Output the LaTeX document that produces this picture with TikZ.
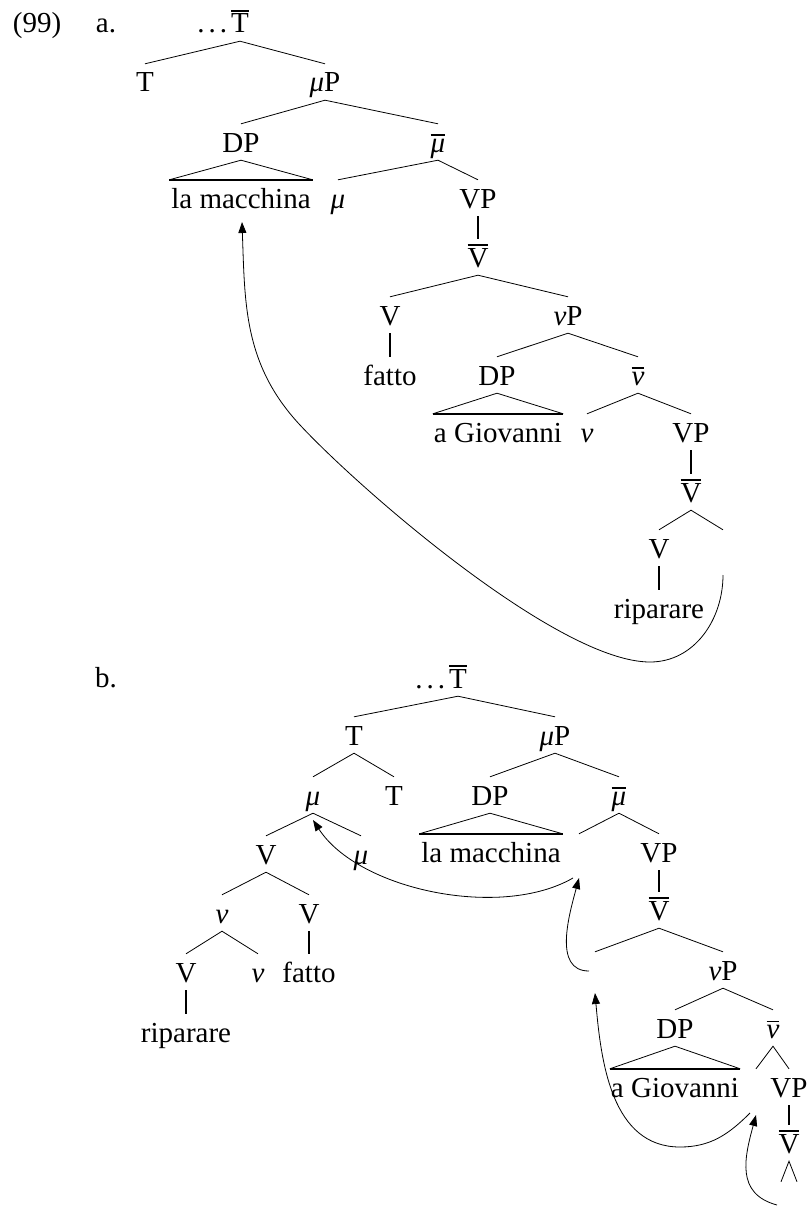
\documentclass[tikz,border=0pt]{standalone}
\usepackage{fontspec}
\setmainfont{Liberation Serif}
\usetikzlibrary{arrows.meta}
\newcommand\ovl[1]{\vbox{\hrule height 1.8pt\kern 2.4pt\hbox{#1}}}
\newcommand\gmu{\textit{μ}}
\newcommand\gnu{\textit{ν}}
\newcommand\dotsl{\llap{.\kern4pt.\kern4pt.\kern4pt}}
\begin{document}
\begin{tikzpicture}[x=1pt,y=1pt,
 tn/.style={anchor=base,inner sep=0pt,text height=28pt,text depth=8pt,font=\fontsize{29}{34}\selectfont},
 br/.style={line width=0.8pt},
 un/.style={line width=2.2pt},
 tribase/.style={line width=2.6pt},
 mv/.style={line width=0.8pt,-{Triangle[length=11pt,width=8pt]}}]
\useasboundingbox (0,0) rectangle (809,-1207);
% ---------- (a) ----------
\node[tn] (n99) at (37,-33) {(99)};
\node[tn] (la) at (106,-33) {a.};
\node[tn] (aTb) at (240,-33) {\dotsl\ovl{T}};
\node[tn] (aT) at (145,-92) {T};
\node[tn] (amuP) at (325,-92) {\gmu P};
\node[tn] (aDP) at (241,-152) {DP};
\node[tn] (amub) at (438,-152) {\ovl{\gmu}};
\node[tn,minimum width=143pt] (alm) at (241,-208) {la macchina};
\node[tn] (amu) at (338,-208) {\gmu};
\node[tn] (aVP) at (478,-208) {VP};
\node[tn] (aVb) at (478,-267) {\ovl{V}};
\node[tn] (aV1) at (390,-325) {V};
\node[tn] (afatto) at (390,-385) {fatto};
\node[tn] (avP) at (568,-325) {\gnu P};
\node[tn] (aDP2) at (497,-385) {DP};
\node[tn,minimum width=130pt] (agio) at (498,-442) {a Giovanni};
\node[tn] (avb) at (638,-385) {\ovl{\gnu}};
\node[tn] (anu) at (587,-442) {\gnu};
\node[tn] (aVP2) at (691,-442) {VP};
\node[tn] (aVb2) at (691,-502) {\ovl{V}};
\node[tn] (aV2) at (659,-558) {V};
\node[tn] (aE) at (723,-558) {};
\node[tn] (arip) at (659,-618) {riparare};
\draw[br] (aT.north) -- (aTb.south) -- (amuP.north);
\draw[br] (aDP.north) -- (amuP.south) -- (amub.north);
\draw[br] (alm.north west) -- (aDP.south) -- (alm.north east);
\draw[tribase] (alm.north west) -- (alm.north east);
\draw[br] (amu.north) -- (amub.south) -- (aVP.north);
\draw[un] (aVP.south) -- (aVb.north);
\draw[br] (aV1.north) -- (aVb.south) -- (avP.north);
\draw[un] (aV1.south) -- (afatto.north);
\draw[br] (aDP2.north) -- (avP.south) -- (avb.north);
\draw[br] (agio.north west) -- (aDP2.south) -- (agio.north east);
\draw[tribase] (agio.north west) -- (agio.north east);
\draw[br] (anu.north) -- (avb.south) -- (aVP2.north);
\draw[un] (aVP2.south) -- (aVb2.north);
\draw[br] (aV2.north) -- (aVb2.south) -- (aE.north);
\draw[un] (aV2.south) -- (arip.north);
\coordinate (aS) at (723,-575);
\coordinate (aB) at (650,-662);
\coordinate (aM) at (300,-425);
\coordinate (aTip) at (242,-222);
\draw[mv] (aS) to[out=-90,in=0] (aB) to[out=180,in=-47,looseness=0.55] (aM) to[out=133,in=-88] (aTip);
% ---------- (b) ----------
\node[tn] (lb) at (106,-687) {b.};
\node[tn] (bTb) at (458,-688) {\dotsl\ovl{T}};
\node[tn] (bT) at (354,-745) {T};
\node[tn] (bmuP) at (555,-745) {\gmu P};
\node[tn] (bmu) at (313,-805) {\gmu};
\node[tn] (bT2) at (394,-805) {T};
\node[tn] (bDP) at (490,-805) {DP};
\node[tn] (bmub) at (619,-805) {\ovl{\gmu}};
\node[tn] (bV) at (266,-864) {V};
\node[tn] (bmu2) at (361,-864) {\gmu};
\node[tn,minimum width=143pt] (blm) at (491,-862) {la macchina};
\node[tn] (bE0) at (579,-862) {};
\node[tn] (bVP) at (659,-862) {VP};
\node[tn] (bnu1) at (222,-923) {\gnu};
\node[tn] (bV2) at (309,-923) {V};
\node[tn] (bVb) at (659,-920) {\ovl{V}};
\node[tn] (bV3) at (186,-982) {V};
\node[tn] (bnu2) at (258,-982) {\gnu};
\node[tn] (bfatto) at (309,-982) {fatto};
\node[tn] (brip) at (186,-1042) {riparare};
\node[tn] (bE1) at (595,-980) {};
\node[tn] (bvP) at (723,-980) {\gnu P};
\node[tn] (bDP2) at (675,-1038) {DP};
\node[tn] (bvb) at (773,-1038) {\ovl{\gnu}};
\node[tn,minimum width=130pt] (bgio) at (675,-1097) {a Giovanni};
\node[tn] (bE2) at (756,-1097) {};
\node[tn] (bVP2) at (789,-1097) {VP};
\node[tn] (bVb2) at (789,-1153) {\ovl{V}};
\node[tn] (bE3) at (781,-1210) {};
\node[tn] (bE4) at (797,-1210) {};
\draw[br] (bT.north) -- (bTb.south) -- (bmuP.north);
\draw[br] (bmu.north) -- (bT.south) -- (bT2.north);
\draw[br] (bV.north) -- (bmu.south) -- (bmu2.north);
\draw[br] (bnu1.north) -- (bV.south) -- (bV2.north);
\draw[br] (bV3.north) -- (bnu1.south) -- (bnu2.north);
\draw[un] (bV2.south) -- (bfatto.north);
\draw[un] (bV3.south) -- (brip.north);
\draw[br] (bDP.north) -- (bmuP.south) -- (bmub.north);
\draw[br] (blm.north west) -- (bDP.south) -- (blm.north east);
\draw[tribase] (blm.north west) -- (blm.north east);
\draw[br] (bE0.north) -- (bmub.south) -- (bVP.north);
\draw[un] (bVP.south) -- (bVb.north);
\draw[br] (bE1.north) -- (bVb.south) -- (bvP.north);
\draw[br] (bDP2.north) -- (bvP.south) -- (bvb.north);
\draw[br] (bgio.north west) -- (bDP2.south) -- (bgio.north east);
\draw[tribase] (bgio.north west) -- (bgio.north east);
\draw[br] (bE2.north) -- (bvb.south) -- (bVP2.north);
\draw[un] (bVP2.south) -- (bVb2.north);
\draw[br] (bE3.north) -- (bVb2.south) -- (bE4.north);
\coordinate (b4s) at (573,-878);
\coordinate (b4t) at (313,-820);
\coordinate (b3s) at (589,-971);
\coordinate (b3t) at (579,-878);
\coordinate (b2s) at (750,-1113);
\coordinate (b2b) at (680,-1147);
\coordinate (b2t) at (595,-993);
\coordinate (b1s) at (777,-1205);
\coordinate (b1t) at (756,-1115);
\draw[mv] (b4s) to[out=-150,in=-57,looseness=0.8] (b4t);
\draw[mv] (b3s) to[out=180,in=-105] (b3t);
\draw[mv] (b2s) to[out=-135,in=0] (b2b) to[out=180,in=-85] (b2t);
\draw[mv] (b1s) to[out=165,in=-105,looseness=1.2] (b1t);
\end{tikzpicture}
\end{document}
